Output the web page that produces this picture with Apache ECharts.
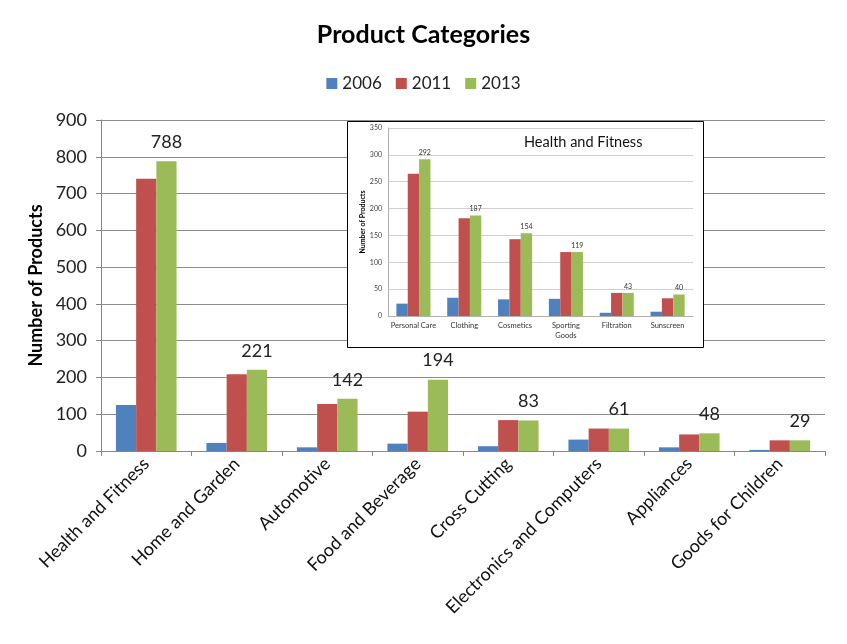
<!DOCTYPE html>
<html>
<head>
<meta charset="utf-8">
<script src="https://cdn.jsdelivr.net/npm/echarts@6/dist/echarts.min.js"></script>
<style>
  html, body { margin: 0; padding: 0; background: #fff; }
  #chart { width: 847px; height: 644px; }
</style>
</head>
<body>
<div id="chart"></div>
<script>
// main chart data
const categories = ['Health and Fitness', 'Home and Garden', 'Automotive', 'Food and Beverage',
  'Cross Cutting', 'Electronics and Computers', 'Appliances', 'Goods for Children']
const years = ['2006', '2011', '2013']
const values2006 = [125, 22, 10, 20, 13, 31, 10, 3]
const values2011 = [740, 209, 128, 107, 84, 61, 45, 29]
const values2013 = [788, 221, 142, 194, 83, 61, 48, 29]

// inset: Health and Fitness breakdown
const insetCategories = ['Personal Care', 'Clothing', 'Cosmetics', 'Sporting\nGoods', 'Filtration', 'Sunscreen']
const inset2006 = [23, 34, 31, 32, 6, 8]
const inset2011 = [265, 182, 143, 119, 43, 33]
const inset2013 = [292, 187, 154, 119, 43, 40]

const colors = ['#4F81BD', '#C0504D', '#9BBB59']
const fontFamily = 'Lato, "Open Sans", sans-serif'

const chart = echarts.init(document.getElementById('chart'))

function mainSeries (name, data, withLabel) {
  return {
    name: name,
    type: 'bar',
    xAxisIndex: 0,
    yAxisIndex: 0,
    data: data,
    barGap: '0%',
    barCategoryGap: '33%',
    label: {
      show: withLabel,
      position: 'top',
      distance: 10,
      fontSize: 18,
      color: '#222',
      fontFamily: fontFamily
    }
  }
}

function insetSeries (name, data, withLabel) {
  return {
    name: name,
    type: 'bar',
    xAxisIndex: 1,
    yAxisIndex: 1,
    data: data,
    z: 10,
    barGap: '0%',
    barCategoryGap: '33%',
    label: {
      show: withLabel,
      position: 'top',
      distance: 3,
      fontSize: 7,
      color: '#333',
      fontFamily: fontFamily
    }
  }
}

const option = {
  color: colors,
  animation: false,
  textStyle: { fontFamily: fontFamily },
  title: [
    {
      text: 'Product Categories',
      left: 'center',
      top: 17,
      textStyle: { fontSize: 25, fontWeight: 'bold', color: '#000', fontFamily: fontFamily }
    },
    {
      text: 'Health and Fitness',
      left: 519,
      top: 130,
      z: 12,
      textStyle: { fontSize: 14.5, fontWeight: 'normal', color: '#111', fontFamily: fontFamily }
    }
  ],
  legend: {
    top: 70,
    left: 'center',
    data: years,
    icon: 'rect',
    itemWidth: 11,
    itemHeight: 11,
    itemGap: 14,
    textStyle: { fontSize: 17, color: '#222', fontFamily: fontFamily }
  },
  graphic: [
    {
      type: 'rect',
      z: 5,
      shape: { x: 347.5, y: 121.5, width: 356, height: 226 },
      style: { fill: '#fff', stroke: '#000', lineWidth: 1 }
    }
  ],
  grid: [
    { left: 101, right: 22, top: 120, bottom: 193, containLabel: false },
    { left: 388, right: 154, top: 128, bottom: 328, containLabel: false, z: 10 }
  ],
  xAxis: [
    {
      type: 'category',
      gridIndex: 0,
      data: categories,
      axisLine: { lineStyle: { color: '#868686' } },
      axisTick: { show: true, length: 5, lineStyle: { color: '#868686' } },
      axisLabel: { rotate: 45, fontSize: 18, color: '#111', margin: 10, interval: 0 }
    },
    {
      type: 'category',
      gridIndex: 1,
      data: insetCategories,
      z: 10,
      axisLine: { lineStyle: { color: '#b0b0b0' } },
      axisTick: { show: false },
      axisLabel: { fontSize: 7.5, color: '#333', margin: 5, interval: 0, lineHeight: 10 }
    }
  ],
  yAxis: [
    {
      type: 'value',
      gridIndex: 0,
      min: 0,
      max: 900,
      interval: 100,
      name: 'Number of Products',
      nameLocation: 'middle',
      nameGap: 52,
      nameTextStyle: { fontSize: 18, fontWeight: 'bold', color: '#000' },
      axisLine: { show: true, lineStyle: { color: '#868686' } },
      axisTick: { show: true, length: 5, lineStyle: { color: '#868686' } },
      axisLabel: { fontSize: 18, color: '#222', margin: 14 },
      splitLine: { lineStyle: { color: '#8c8c8c' } }
    },
    {
      type: 'value',
      gridIndex: 1,
      min: 0,
      max: 350,
      interval: 50,
      z: 10,
      name: 'Number of Products',
      nameLocation: 'middle',
      nameGap: 22,
      nameTextStyle: { fontSize: 7, fontWeight: 'bold', color: '#000' },
      axisLine: { show: true, lineStyle: { color: '#b0b0b0' } },
      axisTick: { show: false },
      axisLabel: { fontSize: 7, color: '#444', margin: 6 },
      splitLine: { lineStyle: { color: '#d0d0d0' } }
    }
  ],
  series: [
    mainSeries('2006', values2006, false),
    mainSeries('2011', values2011, false),
    mainSeries('2013', values2013, true),
    insetSeries('2006', inset2006, false),
    insetSeries('2011', inset2011, false),
    insetSeries('2013', inset2013, true)
  ]
}

chart.setOption(option)
</script>
</body>
</html>
